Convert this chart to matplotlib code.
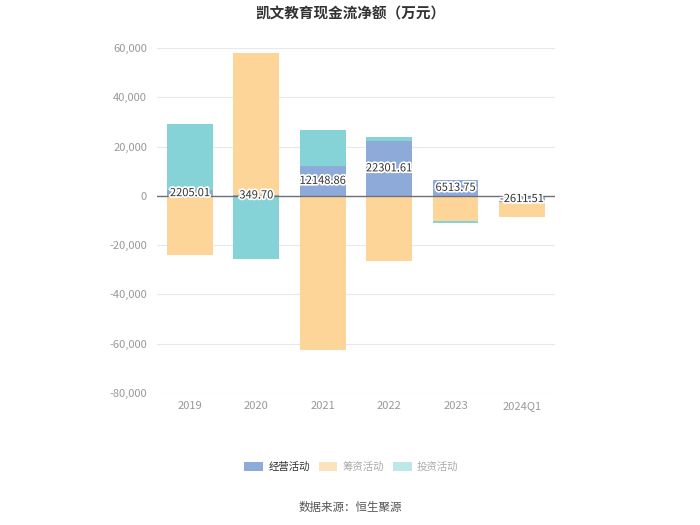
import matplotlib
matplotlib.use("Agg")
import matplotlib.pyplot as plt
import matplotlib.patheffects as pe
import numpy as np
from matplotlib.patches import Patch
from matplotlib.ticker import FuncFormatter

plt.rcParams['font.family'] = ['Noto Sans CJK SC', 'DejaVu Sans']

categories = ["2019", "2020", "2021", "2022", "2023", "2024Q1"]
operating = [2205.01, 349.70, 12148.86, 22301.61, 6513.75, -2611.51]
financing = [-24000, 57700, -62500, -26300, -10000, -6050]
investing = [27000, -25600, 14600, 1400, -850, 0]
series_names = ["经营活动", "筹资活动", "投资活动"]
yticks = [60000, 40000, 20000, 0, -20000, -40000, -60000, -80000]

colors = ["#8eaad9", "#fdd598", "#85d3d6"]
legend_colors = ["#8eaad9", "#fde3bd", "#bde8ea"]

fig = plt.figure(figsize=(7, 5.25), dpi=100)
ax = fig.add_axes([0.224, 0.2514, 0.569, 0.6572])

x = np.arange(len(categories))
width = 0.69
pos_base = np.zeros(len(categories))
neg_base = np.zeros(len(categories))
for vals, c in zip([operating, financing, investing], colors):
    vals = np.array(vals, dtype=float)
    bottoms = np.where(vals >= 0, pos_base, neg_base)
    ax.bar(x, vals, width=width, bottom=bottoms, color=c, zorder=2)
    pos_base = pos_base + np.where(vals >= 0, vals, 0)
    neg_base = neg_base + np.where(vals < 0, vals, 0)

for xi, v in zip(x, operating):
    ax.text(xi, v / 2, f"{v:.2f}", ha="center", va="center", fontsize=8,
            color="#333333", zorder=5,
            path_effects=[pe.withStroke(linewidth=2.5, foreground="white")])

ax.set_xlim(-0.5, len(categories) - 0.5)
ax.set_ylim(-80000, 60000)
ax.set_yticks(yticks)
ax.yaxis.set_major_formatter(FuncFormatter(lambda v, p: f"{int(v):,}"))
ax.set_xticks(x)
ax.set_xticklabels(categories)
ax.tick_params(axis="both", length=0, colors="#999999", labelsize=8)
ax.tick_params(axis="y", pad=7)
ax.tick_params(axis="x", pad=6)
ax.grid(axis="y", color="#e8e8e8", linewidth=0.8, zorder=0)
for s in ax.spines.values():
    s.set_visible(False)
ax.axhline(0, color="#6e7079", linewidth=1, zorder=3)

fig.text(0.5, 0.975, "凯文教育现金流净额（万元）", ha="center", va="center",
         fontsize=10.5, fontweight="bold", color="#333333")

handles = [Patch(facecolor=c, edgecolor="none") for c in legend_colors]
leg = fig.legend(handles, series_names, loc="center", bbox_to_anchor=(0.502, 0.11),
                 ncol=3, frameon=False, fontsize=7.5, handlelength=1.8, handleheight=0.95,
                 columnspacing=0.85, handletextpad=0.5)
for t, col in zip(leg.get_texts(), ["#333333", "#aaaaaa", "#aaaaaa"]):
    t.set_color(col)

fig.text(0.5, 0.033, "数据来源：恒生聚源", ha="center", va="center", fontsize=8.3, color="#555555")

fig.savefig("out.png", dpi=100)
